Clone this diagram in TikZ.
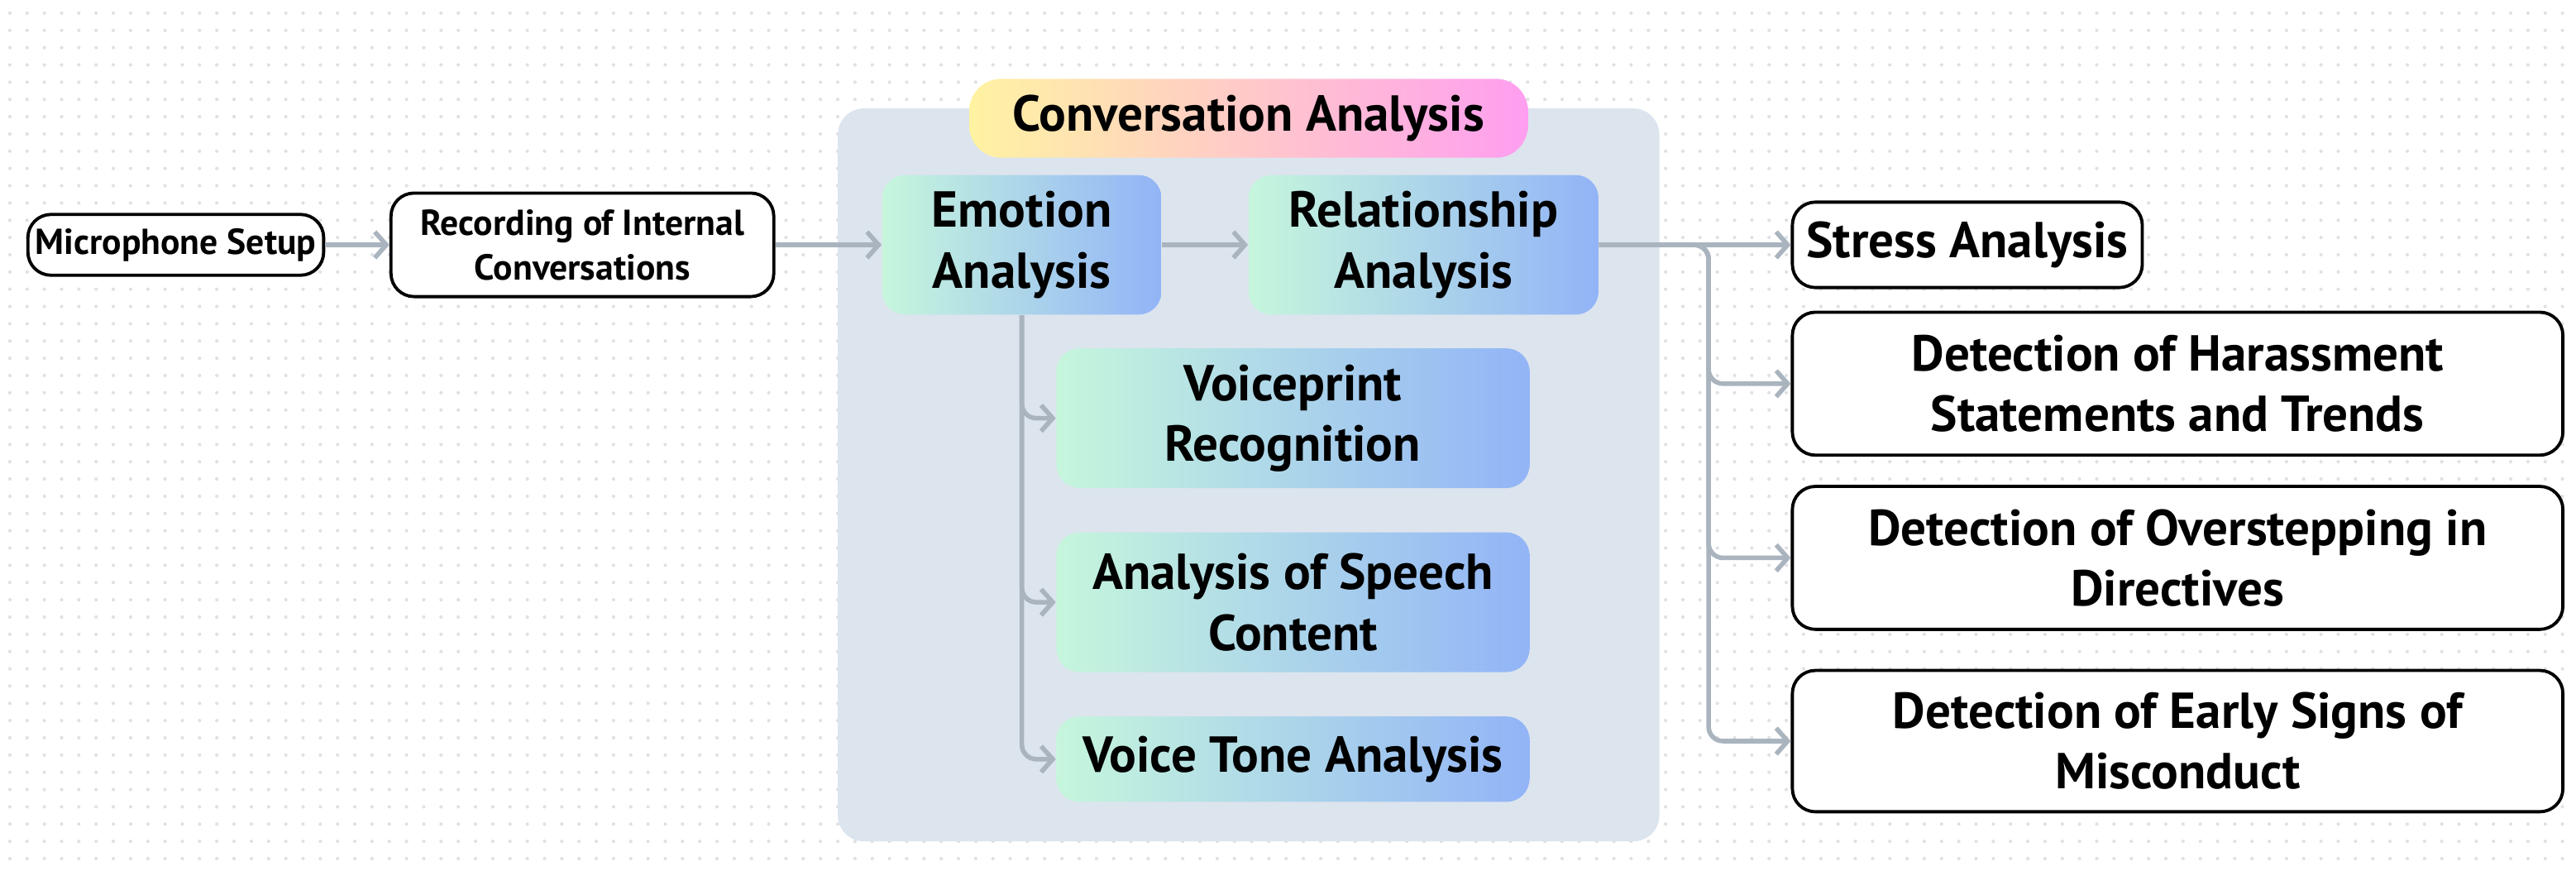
\documentclass[tikz,border=0pt]{standalone}
\usepackage{fontspec}
\setmainfont{PT Sans}
\usetikzlibrary{arrows.meta,positioning,calc}
\definecolor{panelbg}{HTML}{DCE4EE}
\definecolor{dotgray}{HTML}{DEE1E5}
\definecolor{linkgray}{HTML}{A9B4BE}
\definecolor{mint}{HTML}{C6F6DC}
\definecolor{skyblue}{HTML}{A9D2EA}
\definecolor{cornblue}{HTML}{92B4F7}
\definecolor{lemon}{HTML}{FFF3A2}
\definecolor{peach}{HTML}{FFD0CC}
\definecolor{orchid}{HTML}{FF9EF0}
\tikzset{
  whitebox/.style={draw=black, line width=1.1pt, fill=white, rounded corners=8pt,
    align=center, inner sep=0pt, font=\bfseries\fontsize{12.5}{15.5}\selectfont},
  endbox/.style={whitebox, font=\bfseries\fontsize{17.5}{21}\selectfont},
  gradbox/.style={rounded corners=8pt, left color=mint, middle color=skyblue, right color=cornblue,
    align=center, inner sep=0pt, font=\bfseries\fontsize{17.5}{21}\selectfont},
  titlebox/.style={rounded corners=11pt, left color=lemon, middle color=peach, right color=orchid,
    align=center, inner sep=0pt, font=\bfseries\fontsize{17.5}{21}\selectfont},
  link/.style={draw=linkgray, line width=1.6pt, rounded corners=5pt,
    -{Straight Barb[length=4pt,width=9pt,line width=1.6pt]}},
  dotrow/.style={draw=dotgray, line width=1.2pt, line cap=round, dash pattern=on 0pt off 0.21cm}
}
\begin{document}
\begin{tikzpicture}[x=0.02cm,y=-0.02cm]
\useasboundingbox (0,0) rectangle (1568,530);
\fill[white] (0,0) rectangle (1568,530);
% dotted paper
\foreach \j in {0,...,49}{
  \draw[dotrow] (6,\j*10.5+8) -- (1566,\j*10.5+8);
}
% panel
\fill[panelbg, rounded corners=9pt] (510,66) rectangle (1010,512);
\node[titlebox, minimum width=340*0.02cm, minimum height=48*0.02cm] (conv) at (760,72) {Conversation Analysis};

% input side
\node[whitebox, minimum width=180*0.02cm, minimum height=37*0.02cm] (mic) at (107,149) {Microphone Setup};
\node[whitebox, minimum width=233*0.02cm, minimum height=63*0.02cm] (rec) at (354.5,149) {Recording of Internal\\Conversations};

% analysis
\node[gradbox, minimum width=170*0.02cm, minimum height=85*0.02cm] (emo) at (622,149) {Emotion\\Analysis};
\node[gradbox, minimum width=213*0.02cm, minimum height=85*0.02cm] (rel) at (866.5,149) {Relationship\\Analysis};
\node[gradbox, minimum width=288*0.02cm, minimum height=85*0.02cm] (vprint) at (787,254.5) {Voiceprint\\Recognition};
\node[gradbox, minimum width=288*0.02cm, minimum height=85*0.02cm] (speech) at (787,366.5) {Analysis of Speech\\Content};
\node[gradbox, minimum width=288*0.02cm, minimum height=52*0.02cm] (tone) at (787,462) {Voice Tone Analysis};

% results
\node[endbox, minimum width=213*0.02cm, minimum height=52*0.02cm] (stress) at (1197.5,149) {Stress Analysis};
\node[endbox, minimum width=469*0.02cm, minimum height=87*0.02cm] (harass) at (1325.5,233.5) {Detection of Harassment\\Statements and Trends};
\node[endbox, minimum width=469*0.02cm, minimum height=87*0.02cm] (overstep) at (1325.5,339.5) {Detection of Overstepping in\\Directives};
\node[endbox, minimum width=469*0.02cm, minimum height=86*0.02cm] (miscond) at (1325.5,451) {Detection of Early Signs of\\Misconduct};

\coordinate (rsplit) at (1040,149);

\draw[link] (mic) -- (rec);
\draw[link] (rec) -- (emo);
\draw[link] (emo) -- (rel);
\draw[link] (rel) -- (stress);
\foreach \t in {harass,overstep,miscond}{
  \draw[link] (rel.east) -- (rsplit) |- (\t.west);
}
\foreach \t in {vprint,speech,tone}{
  \draw[link] (emo.south) |- (\t.west);
}
\end{tikzpicture}
\end{document}
